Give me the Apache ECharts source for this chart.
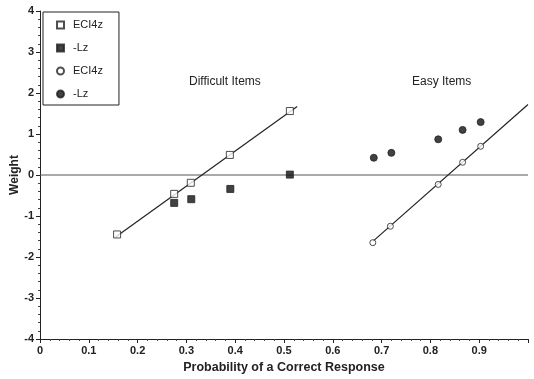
<!DOCTYPE html>
<html>
<head>
<meta charset="utf-8">
<script src="https://cdn.jsdelivr.net/npm/echarts@6/dist/echarts.min.js"></script>
<style>
  html, body { margin: 0; padding: 0; background: #fff; }
  #chart { width: 534px; height: 379px; }
</style>
</head>
<body>
<div id="chart"></div>
<script>
  // difficult items
  var hardEci = [[0.158, -1.45], [0.275, -0.46], [0.309, -0.19], [0.389, 0.49], [0.512, 1.56]];
  var hardLz = [[0.275, -0.68], [0.31, -0.59], [0.39, -0.34], [0.512, 0.01]];
  var hardFit = [[0.155, -1.51], [0.527, 1.67]];
  // easy items
  var easyEci = [[0.682, -1.65], [0.718, -1.25], [0.816, -0.23], [0.866, 0.31], [0.903, 0.70]];
  var easyLz = [[0.684, 0.42], [0.72, 0.54], [0.816, 0.87], [0.866, 1.10], [0.903, 1.29]];
  var easyFit = [[0.682, -1.62], [1.0, 1.72]];
  var zeroLine = [[0, 0], [1, 0]];

  var legendNames = ['ECI4z', '-Lz', 'ECI4z', '-Lz'];
  var seriesIds = ['hardEci', 'hardLz', 'easyEci', 'easyLz'];

  var font = 'Liberation Sans, Arial, sans-serif';
  var chart = echarts.init(document.getElementById('chart'));

  function points(id, data, symbol, size, filled) {
    return {
      name: id,
      type: 'scatter',
      data: data,
      symbol: symbol,
      symbolSize: size,
      z: 5,
      itemStyle: {
        color: filled ? '#111' : '#fff',
        borderColor: '#222',
        borderWidth: 1
      }
    };
  }

  function line(id, data, color, width) {
    return {
      name: id,
      type: 'line',
      data: data,
      symbol: 'none',
      silent: true,
      lineStyle: { color: color, width: width }
    };
  }

  chart.setOption({
    animation: false,
    textStyle: { fontFamily: font },
    grid: { left: 40, right: 6, top: 11, bottom: 40, outerBoundsMode: 'none' },
    legend: {
      data: seriesIds,
      orient: 'vertical',
      left: 43,
      top: 12,
      padding: [6, 16, 4, 13],
      itemGap: 9,
      itemWidth: 7,
      itemHeight: 7,
      borderColor: '#222',
      borderWidth: 1,
      backgroundColor: '#fff',
      textStyle: { fontSize: 11, color: '#222', fontFamily: font, lineHeight: 14, padding: [0, 0, 0, 4] },
      formatter: function (name) {
        return legendNames[seriesIds.indexOf(name)];
      }
    },
    xAxis: {
      type: 'value',
      min: 0,
      max: 1,
      interval: 0.1,
      name: 'Probability of a Correct Response',
      nameLocation: 'middle',
      nameGap: 22,
      nameTextStyle: { fontSize: 12.5, fontWeight: 'bold', color: '#222' },
      axisLine: { onZero: false, lineStyle: { color: '#222', width: 1 } },
      axisTick: { length: 4, lineStyle: { color: '#222' } },
      minorTick: { show: true, splitNumber: 5, length: 2, lineStyle: { color: '#444' } },
      splitLine: { show: false },
      axisLabel: {
        fontSize: 11, fontWeight: 'bold', color: '#222', margin: 6,
        formatter: function (v) { return v >= 1 ? '' : String(Math.round(v * 10) / 10); }
      }
    },
    yAxis: {
      type: 'value',
      min: -4,
      max: 4,
      interval: 1,
      name: 'Weight',
      nameLocation: 'middle',
      nameGap: 19,
      nameMoveOverlap: false,
      nameTextStyle: { fontSize: 12, fontWeight: 'bold', color: '#222' },
      axisLine: { show: true, lineStyle: { color: '#222', width: 1 } },
      axisTick: { show: true, length: 4, lineStyle: { color: '#222' } },
      minorTick: { show: true, splitNumber: 5, length: 2, lineStyle: { color: '#444' } },
      splitLine: { show: false },
      axisLabel: { fontSize: 11, fontWeight: 'bold', color: '#222', margin: 6 }
    },
    graphic: [
      { type: 'text', left: 189, top: 76, style: { text: 'Difficult Items', font: '12px ' + font, fill: '#222' } },
      { type: 'text', left: 412, top: 76, style: { text: 'Easy Items', font: '12px ' + font, fill: '#222' } }
    ],
    series: [
      line('zero', zeroLine, '#555', 1),
      line('hardFit', hardFit, '#222', 1.2),
      line('easyFit', easyFit, '#222', 1.2),
      points('hardEci', hardEci, 'rect', 7, false),
      points('hardLz', hardLz, 'rect', 7, true),
      points('easyEci', easyEci, 'circle', 6, false),
      points('easyLz', easyLz, 'circle', 7, true)
    ]
  });
</script>
</body>
</html>
